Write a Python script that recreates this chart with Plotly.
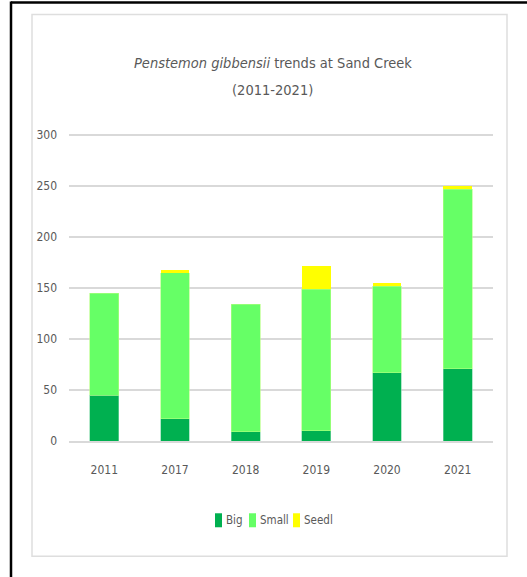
import plotly.graph_objects as go

years = ["2011", "2017", "2018", "2019", "2020", "2021"]
big = [45, 22, 9, 10, 67, 71]
small = [100, 143, 125, 139, 85, 176]
seedl = [0, 3, 0, 23, 3, 3]
series_names = ["Big", "Small", "Seedl"]
series_colors = ["#00B050", "#66FF66", "#FFFF00"]
title_line1 = "<i>Penstemon gibbensii</i> trends at Sand Creek"
title_line2 = "(2011-2021)"

W, H = 527, 577
L, R = 69, 493          # plot area x extents (px)
B = 440.7               # y pixel of value 0
YMAX = 306
T = B - YMAX * 1.02     # y pixel of YMAX
pw, ph = R - L, B - T

def px(x):
    return (x - L) / pw

def py(y):
    return (B - y) / ph

FONT = "DejaVu Sans Condensed, Roboto, sans-serif"
GRAY = "#595959"

fig = go.Figure()
edge = [dict(color="#7fd8a7", width=0.6), dict(color="#b2ff80", width=0.6), dict(width=0)]
for name, vals, col, ln in zip(series_names, [big, small, seedl], series_colors, edge):
    fig.add_bar(x=years, y=vals, name=name, showlegend=False,
                marker=dict(color=col, line=ln))

shapes = [
    # inner chart-area border
    dict(type="rect", xref="paper", yref="paper", x0=px(32), x1=px(507), y0=py(556), y1=py(14),
         line=dict(color="#dedede", width=1.5), layer="below"),
    # outer black border (top, left)
    dict(type="line", xref="paper", yref="paper", x0=px(11), x1=px(527), y0=py(2), y1=py(2),
         line=dict(color="black", width=2.5)),
    dict(type="line", xref="paper", yref="paper", x0=px(11), x1=px(11), y0=py(1), y1=py(577),
         line=dict(color="black", width=2.5)),
]

annotations = [
    dict(text=title_line1, xref="paper", yref="paper", x=px(273), y=py(63),
         xanchor="center", yanchor="middle", showarrow=False,
         font=dict(family=FONT, size=14.5, color=GRAY)),
    dict(text=title_line2, xref="paper", yref="paper", x=px(272.5), y=py(90),
         xanchor="center", yanchor="middle", showarrow=False,
         font=dict(family=FONT, size=14.5, color=GRAY)),
]

# legend (drawn as swatches + labels)
sw_x = [215, 249, 293]
tx_x = [223.5, 257.5, 301.5]
for name, col, sx, tx in zip(series_names, series_colors, sw_x, tx_x):
    shapes.append(dict(type="rect", xref="paper", yref="paper",
                       x0=px(sx), x1=px(sx + 7), y0=py(527), y1=py(513),
                       fillcolor=col, line=dict(width=0)))
    annotations.append(dict(text=name, xref="paper", yref="paper", x=px(tx), y=py(520),
                            xanchor="left", yanchor="middle", showarrow=False,
                            font=dict(family=FONT, size=11.5, color=GRAY)))

fig.update_layout(
    width=W, height=H,
    margin=dict(l=L, r=W - R, t=T, b=H - B, pad=0),
    barmode="stack",
    bargap=0.59,
    plot_bgcolor="white",
    paper_bgcolor="white",
    font=dict(family=FONT, color=GRAY, size=12),
    showlegend=False,
    shapes=shapes,
    annotations=annotations,
    xaxis=dict(
        showgrid=False, showline=True, linecolor="#d9d9d9", linewidth=1.5,
        ticks="", ticklabelstandoff=17, tickfont=dict(size=12, color=GRAY),
    ),
    yaxis=dict(
        range=[0, YMAX], tickvals=[0, 50, 100, 150, 200, 250, 300],
        showgrid=True, gridcolor="#d9d9d9", gridwidth=1.5,
        zeroline=False, showline=False, ticks="",
        ticklabelstandoff=11, tickfont=dict(size=12, color=GRAY),
    ),
)

fig.write_html("out.html")
